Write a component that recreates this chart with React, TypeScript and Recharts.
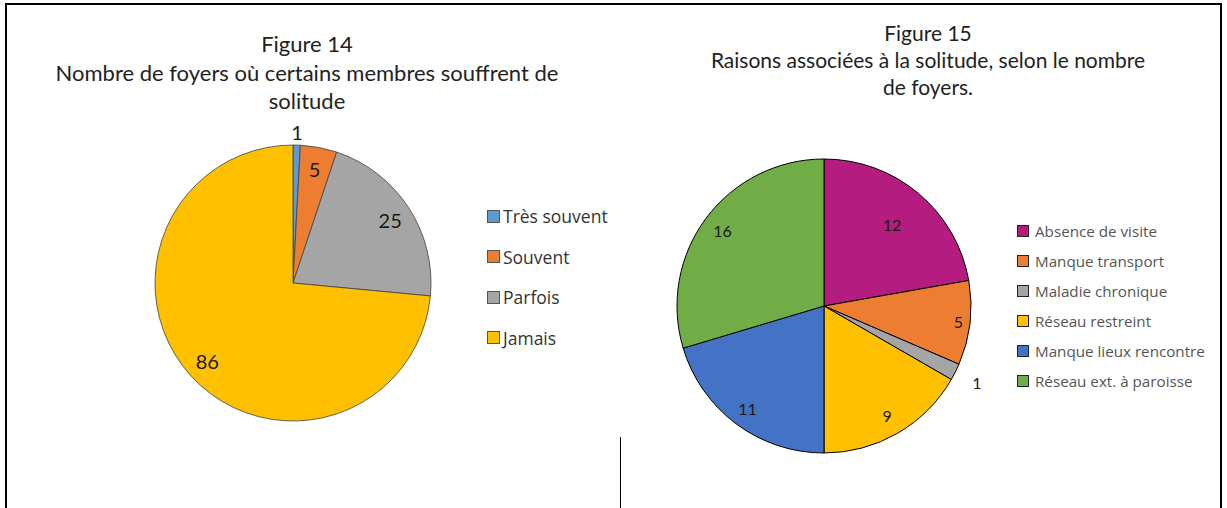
import { PieChart, Pie, Cell } from 'recharts';

const freqNames = ['Très souvent', 'Souvent', 'Parfois', 'Jamais'];
const freqValues = [1, 5, 25, 86];
const freqColors = ['#5B9BD5', '#ED7D31', '#A5A5A5', '#FFC000'];

const reasonNames = [
  'Absence de visite',
  'Manque transport',
  'Maladie chronique',
  'Réseau restreint',
  'Manque lieux rencontre',
  'Réseau ext. à paroisse',
];
const reasonValues = [12, 5, 1, 9, 11, 16];
const reasonColors = ['#B41C80', '#ED7D31', '#A5A5A5', '#FFC000', '#4472C4', '#70AD47'];

const freqData = freqNames.map((name, i) => ({ name, value: freqValues[i] }));
const reasonData = reasonNames.map((name, i) => ({ name, value: reasonValues[i] }));

const FONT = 'Lato, "Open Sans", sans-serif';
const LEG_FONT = '"Open Sans", sans-serif';
const RAD = Math.PI / 180;

// label radius relative to outer radius, small slices go outside
const makeLabel = (fontSize: number, outsidePad: number, factors?: Record<number, number>) => (p: any) => {
  const { cx, cy, midAngle, outerRadius, percent, value, index } = p;
  let r = outerRadius * (factors?.[index] ?? 0.84);
  if (percent < 0.025) r = outerRadius + outsidePad;
  const x = cx + r * Math.cos(-midAngle * RAD);
  const y = cy + r * Math.sin(-midAngle * RAD);
  return (
    <text x={x} y={y} fill="#1a1a1a" fontSize={fontSize} fontFamily={FONT} textAnchor="middle" dominantBaseline="central">
      {value}
    </text>
  );
};

const Legend = ({ names, colors, x, y, gap, fontSize, box, border, color, space }: any) => (
  <div style={{ position: 'absolute', left: x, top: y }}>
    {names.map((n: string, i: number) => (
      <div key={n} style={{ position: 'absolute', top: i * gap, left: 0, display: 'flex', alignItems: 'center', whiteSpace: 'nowrap', height: 20 }}>
        <span style={{ width: box, height: box, background: colors[i], border: `1px solid ${border}`, boxSizing: 'border-box', marginRight: space, display: 'inline-block' }} />
        <span style={{ fontSize, color, fontFamily: LEG_FONT }}>{n}</span>
      </div>
    ))}
  </div>
);

export default function App() {
  return (
    <div style={{ position: 'absolute', left: 0, top: 0, width: 1227, height: 508, background: '#fff', overflow: 'hidden', fontFamily: FONT }}>
      {/* frame */}
      <div style={{ position: 'absolute', left: 5, top: 3, width: 1217, height: 520, border: '2px solid #000', boxSizing: 'border-box' }} />
      <div style={{ position: 'absolute', left: 620, top: 437, width: 1, height: 71, background: '#000' }} />

      {/* Figure 14 */}
      <div style={{ position: 'absolute', left: 7, top: 30, width: 600, textAlign: 'center', fontSize: 22, lineHeight: '28.5px', color: '#222' }}>
        Figure 14
        <br />
        Nombre de foyers où certains membres souffrent de
        <br />
        solitude
      </div>
      <div style={{ position: 'absolute', left: 138, top: 118 }}>
        <PieChart width={300} height={320}>
          <Pie
            data={freqData}
            dataKey="value"
            nameKey="name"
            cx={150}
            cy={160}
            outerRadius={138}
            startAngle={90}
            endAngle={-270}
            stroke="#404040"
            strokeWidth={0.8}
            label={makeLabel(20, 13)}
            labelLine={false}
            isAnimationActive={false}
          >
            {freqData.map((d, i) => (
              <Cell key={d.name} fill={freqColors[i]} />
            ))}
          </Pie>
        </PieChart>
      </div>
      <Legend names={freqNames} colors={freqColors} x={487} y={206} gap={40.5} fontSize={17.5} box={13} border="#555" color="#333" space={3} />

      {/* Figure 15 */}
      <div style={{ position: 'absolute', left: 628, top: 19, width: 600, textAlign: 'center', fontSize: 21, lineHeight: '27px', color: '#222' }}>
        Figure 15
        <br />
        Raisons associées à la solitude, selon le nombre
        <br />
        de foyers.
      </div>
      <div style={{ position: 'absolute', left: 659, top: 141 }}>
        <PieChart width={360} height={320}>
          <Pie
            data={reasonData}
            dataKey="value"
            nameKey="name"
            cx={160}
            cy={160}
            outerRadius={147}
            startAngle={90}
            endAngle={-270}
            stroke="#000"
            strokeWidth={1}
            label={makeLabel(16, 24, { 0: 0.72, 1: 0.92, 3: 0.86, 4: 0.87, 5: 0.86 })}
            labelLine={false}
            isAnimationActive={false}
          >
            {reasonData.map((d, i) => (
              <Cell key={d.name} fill={reasonColors[i]} />
            ))}
          </Pie>
        </PieChart>
      </div>
      <Legend names={reasonNames} colors={reasonColors} x={1017} y={221} gap={30} fontSize={15.2} box={12} border="#222" color="#555" space={6} />
    </div>
  );
}
